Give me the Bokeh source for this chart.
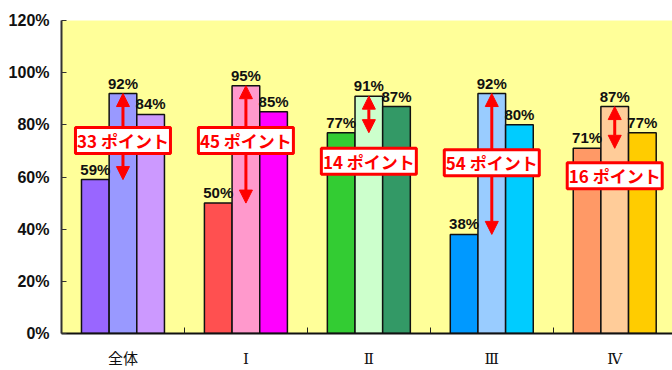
from bokeh.plotting import figure
from bokeh.models import FixedTicker, Range1d, Arrow, NormalHead, ColumnDataSource
from bokeh.core.properties import value
from bokeh.embed import file_html
from bokeh.resources import INLINE

# Categories and the three rates per category (percent)
groups = ["全体", "Ⅰ", "Ⅱ", "Ⅲ", "Ⅳ"]
rate_a = [59, 50, 77, 38, 71]
rate_b = [92, 95, 91, 92, 87]
rate_c = [84, 85, 87, 80, 77]
y_ticks = [0, 20, 40, 60, 80, 100, 120]

# Bar colours per category
colors_a = ["#9966FF", "#FF5050", "#33CC33", "#0099FF", "#FF9966"]
colors_b = ["#9999FF", "#FF99CC", "#CCFFCC", "#99CCFF", "#FFCC99"]
colors_c = ["#CC99FF", "#FF00FF", "#339966", "#00CCFF", "#FFCC00"]

# Vertical placement of the "points" callout boxes (in axis units)
note_y = [74, 74, 66, 65.5, 60.5]

BAR_W = 0.225
RED = "#FF0000"

xs, tops, fills = [], [], []
for i in range(len(groups)):
    for j, (vals, cols) in enumerate(((rate_a, colors_a), (rate_b, colors_b), (rate_c, colors_c))):
        xs.append(i + 0.5 + (j - 1) * BAR_W)
        tops.append(vals[i])
        fills.append(cols[i])
bars = ColumnDataSource(dict(x=xs, top=tops, fill=fills, label=[f"{v}%" for v in tops]))

p = figure(width=672, height=370,
           x_range=Range1d(0, 4.97), y_range=Range1d(0, 120),
           output_backend="svg", toolbar_location=None,
           min_border_left=61, min_border_right=0,
           min_border_top=20, min_border_bottom=36,
           background_fill_color="#FFFF99", border_fill_color="white",
           outline_line_color=None)
p.grid.visible = False

# y axis
ya = p.yaxis[0]
ya.ticker = FixedTicker(ticks=y_ticks)
ya.major_label_overrides = {t: f"{t}%" for t in y_ticks}
ya.major_tick_in = 5
ya.major_tick_out = 0
ya.minor_tick_in = 0
ya.minor_tick_out = 0
ya.axis_line_width = 2
ya.axis_line_color = "#333333"
ya.major_tick_line_color = "#333333"
ya.major_label_text_font = "Liberation Sans"
ya.major_label_text_font_style = "bold"
ya.major_label_text_font_size = "16px"
ya.major_label_text_color = "#111111"
ya.major_label_standoff = 12

# x axis: labels at category centres, short ticks at category boundaries
xa = p.xaxis[0]
centers = [i + 0.5 for i in range(len(groups))]
xa.ticker = FixedTicker(ticks=centers, minor_ticks=list(range(1, len(groups))))
xa.major_label_overrides = {c: g for c, g in zip(centers, groups)}
xa.major_tick_in = 0
xa.major_tick_out = 0
xa.minor_tick_in = 6
xa.minor_tick_out = 0
xa.minor_tick_line_color = "#222222"
xa.axis_line_width = 2
xa.axis_line_color = "#111111"
xa.major_label_text_font = "DejaVu Serif, Noto Sans CJK JP"
xa.major_label_text_font_size = "15px"
xa.major_label_text_color = "#111111"
xa.major_label_standoff = 16

# bars
p.vbar(x="x", top="top", width=BAR_W, source=bars,
       fill_color="fill", line_color="#111111", line_width=1.5)

# value labels
p.text(x="x", y="top", text="label", source=bars,
       text_align="center", text_baseline="bottom", y_offset=-2,
       text_font=value("Liberation Sans"), text_font_style="bold",
       text_font_size="15px", text_color="#111111")

# difference arrows and callouts
for i in range(len(groups)):
    cx = i + 0.5
    p.add_layout(Arrow(x_start=cx, y_start=rate_a[i], x_end=cx, y_end=rate_b[i],
                       start=NormalHead(size=13, fill_color=RED, line_color=RED),
                       end=NormalHead(size=13, fill_color=RED, line_color=RED),
                       line_color=RED, line_width=3))

notes = ColumnDataSource(dict(
    x=centers, y=note_y,
    text=[f"{b - a} ポイント" for a, b in zip(rate_a, rate_b)]))
p.rect(x="x", y="y", width=95, height=26, width_units="screen", height_units="screen",
       source=notes, fill_color="white", line_color=RED, line_width=3, level="overlay")
p.text(x="x", y="y", text="text", source=notes,
       text_align="center", text_baseline="middle",
       text_font=value("Noto Sans CJK JP"), text_font_style="bold",
       text_font_size="17px", text_color=RED, level="overlay")

open("out.html", "w").write(file_html(p, INLINE))
